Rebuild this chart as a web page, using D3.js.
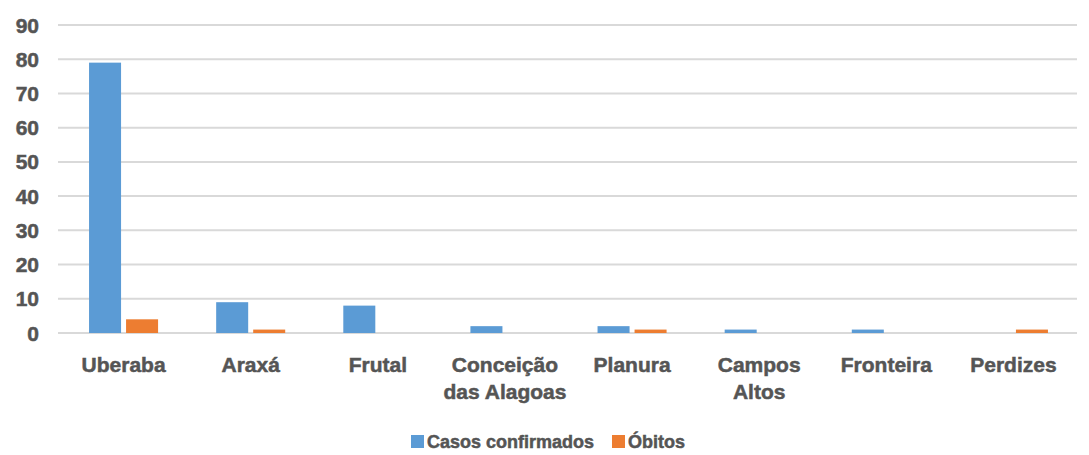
<!DOCTYPE html>
<html><head><meta charset="utf-8">
<script src="https://cdn.jsdelivr.net/npm/d3@7/dist/d3.min.js"></script>
<style>body{margin:0;background:#fff}svg{display:block}text{font-family:"Liberation Sans",Arial,sans-serif;font-weight:bold;fill:#555;stroke:#555;stroke-width:0.5px}</style>
</head><body><svg id="c" width="1089" height="455"></svg>
<script>
const categories = [["Uberaba"],["Araxá"],["Frutal"],["Conceição","das Alagoas"],["Planura"],["Campos","Altos"],["Fronteira"],["Perdizes"]];
const seriesNames = ["Casos confirmados","Óbitos"];
const casos = [79, 9, 8, 2, 2, 1, 1, 0];
const obitos = [4, 1, 0, 0, 1, 0, 0, 1];
const yTicks = [0,10,20,30,40,50,60,70,80,90];
const colors = ["#5B9BD5","#ED7D31"];

const svg = d3.select("#c");
const keys = categories.map((c,i)=>i);
const x0 = d3.scaleBand().domain(keys).range([60,1077]).paddingInner(0.457).paddingOuter(0.2285);
const x1 = d3.scaleBand().domain(seriesNames).range([0,x0.bandwidth()]).paddingInner(0.135);
const y = d3.scaleLinear().domain([0,90]).range([333,25]);

svg.append("g").selectAll("line").data(yTicks).join("line")
  .attr("x1",58).attr("x2",1077).attr("y1",d=>y(d)).attr("y2",d=>y(d))
  .attr("stroke","#d9d9d9").attr("stroke-width",2);

svg.append("g").selectAll("text").data(yTicks).join("text")
  .attr("x",39).attr("y",d=>y(d)).attr("dy","0.36em").attr("text-anchor","end")
  .attr("font-size",21).text(d=>d);

const data = [casos, obitos];
seriesNames.forEach((s,si)=>{
  svg.append("g").selectAll("rect").data(keys).join("rect")
    .attr("x",i=>x0(i)+x1(s)).attr("width",x1.bandwidth())
    .attr("y",i=>y(data[si][i])).attr("height",i=>y(0)-y(data[si][i]))
    .attr("fill",colors[si]);
});

const xl = svg.append("g").selectAll("text").data(keys).join("text")
  .attr("x",i=>x0(i)+x0.bandwidth()/2).attr("y",372).attr("text-anchor","middle")
  .attr("font-size",21);
xl.each(function(i){
  const t=d3.select(this);
  categories[i].forEach((line,li)=>{
    t.append("tspan").attr("x",x0(i)+x0.bandwidth()/2).attr("dy",li?27:0).text(line);
  });
});

const leg = svg.append("g");
const legItems = [{n:seriesNames[0],c:colors[0],x:411},{n:seriesNames[1],c:colors[1],x:612}];
legItems.forEach(d=>{
  leg.append("rect").attr("x",d.x).attr("y",435).attr("width",13).attr("height",13).attr("fill",d.c);
  leg.append("text").attr("x",d.x+16).attr("y",448).attr("font-size",18).text(d.n);
});
</script></body></html>
